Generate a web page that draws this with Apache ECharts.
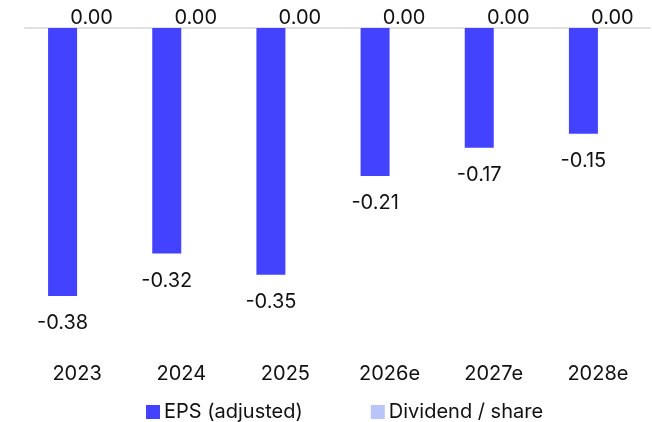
<!DOCTYPE html>
<html>
<head>
<meta charset="utf-8">
<script src="https://cdn.jsdelivr.net/npm/echarts@6/dist/echarts.min.js"></script>
<style>
  html, body { margin: 0; padding: 0; background: #ffffff; }
  #chart { width: 652px; height: 422px; }
</style>
</head>
<body>
<div id="chart"></div>
<script>
// Fiscal years (e = estimate)
const years = ['2023', '2024', '2025', '2026e', '2027e', '2028e'];
// Adjusted earnings per share
const epsAdjusted = [-0.38, -0.32, -0.35, -0.21, -0.17, -0.15];
// Dividend per share
const dividendPerShare = [0.00, 0.00, 0.00, 0.00, 0.00, 0.00];

const FONT = 'Inter, "Liberation Sans", Arial, sans-serif';
const fmt = p => Number(p.value).toFixed(2);

const chart = echarts.init(document.getElementById('chart'), null, { renderer: 'canvas' });
chart.setOption({
  animation: false,
  textStyle: { fontFamily: FONT },
  grid: { left: 25, right: 2, top: 28, bottom: 112, containLabel: false },
  legend: {
    left: 141,
    top: 397,
    itemWidth: 14,
    itemHeight: 14,
    itemGap: 68,
    icon: 'rect',
    textStyle: { fontSize: 20, color: '#111111', fontFamily: FONT, padding: [0, 0, 0, -1] },
    data: ['EPS (adjusted)', 'Dividend / share']
  },
  xAxis: [
    {
      type: 'category',
      position: 'bottom',
      data: years,
      axisLine: { show: false },
      axisTick: { show: false },
      axisLabel: { margin: 54, fontSize: 20, color: '#111111', fontFamily: FONT }
    },
    {
      // zero line along the top of the plot
      type: 'category',
      position: 'top',
      data: years,
      axisLine: { show: true, lineStyle: { color: '#e0e0e0', width: 2 } },
      axisTick: { show: false },
      axisLabel: { show: false }
    }
  ],
  yAxis: {
    type: 'value',
    min: -0.4,
    max: 0,
    interval: 0.4,
    show: false,
    splitLine: { show: false }
  },
  series: [
    {
      name: 'EPS (adjusted)',
      type: 'bar',
      xAxisIndex: 0,
      data: epsAdjusted,
      barWidth: 29,
      barGap: '0%',
      itemStyle: { color: '#4242FF' },
      label: {
        show: true,
        position: 'bottom',
        distance: 17,
        formatter: fmt,
        fontSize: 20,
        color: '#111111',
        fontFamily: FONT
      }
    },
    {
      name: 'Dividend / share',
      type: 'bar',
      xAxisIndex: 0,
      data: dividendPerShare,
      barWidth: 29,
      itemStyle: { color: '#B9C5F9' },
      label: {
        show: true,
        position: 'top',
        distance: 0,
        formatter: fmt,
        fontSize: 20,
        color: '#111111',
        fontFamily: FONT
      }
    }
  ]
});
</script>
</body>
</html>
